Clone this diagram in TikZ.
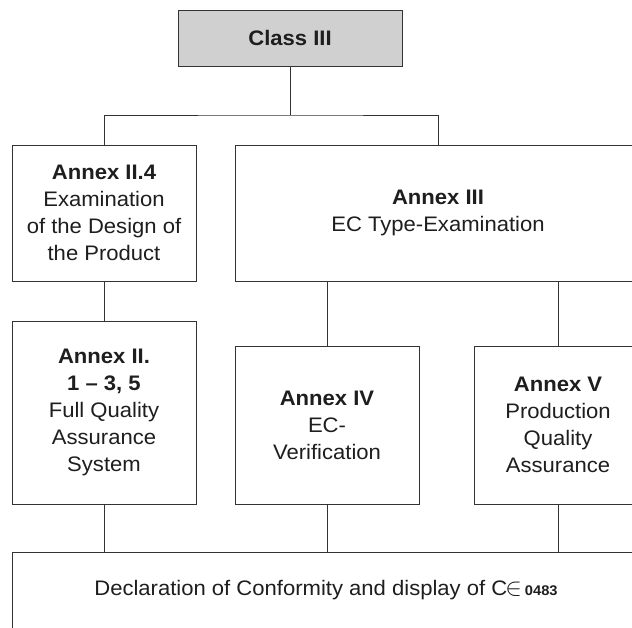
\documentclass[tikz,border=0pt]{standalone}
\usepackage{fontspec}
\setmainfont{Liberation Sans}[FakeStretch=1.05]
\definecolor{linec}{HTML}{333333}
\definecolor{textc}{HTML}{1E1E1E}
\definecolor{grayfill}{HTML}{D0D0D0}
\tikzset{
  box/.style={draw=linec, line width=1pt, rectangle, inner sep=0pt, align=center,
    text=textc, font=\fontsize{21}{27}\selectfont},
  conn/.style={draw=linec, line width=1pt},
}
\begin{document}
\begin{tikzpicture}[x=1pt,y=-1pt]
\useasboundingbox (0,0) rectangle (632,627);
\clip (0,0) rectangle (632,627);
\fill[white] (0,0) rectangle (632,627);
\node[box, fill=grayfill, minimum width=224pt, minimum height=56pt] (cls) at (290,38) {\textbf{Class III}};
\node[box, minimum width=184pt, minimum height=136pt] (a24) at (104,213)
  {\textbf{Annex II.4}\\Examination\\of the Design of\\the Product};
\node[box, minimum width=406pt, minimum height=136pt] (a3) at (438,213)
  {\textbf{Annex III}\\EC Type-Examination};
\node[box, minimum width=184pt, minimum height=183pt] (a2) at (104,412.5)
  {\textbf{Annex II.}\\\textbf{1 – 3, 5}\\Full Quality\\Assurance\\System};
\node[box, minimum width=184pt, minimum height=158pt] (a4) at (327,425)
  {\textbf{Annex IV}\\EC-\\Verification};
\node[box, minimum width=168pt, minimum height=158pt] (a5) at (558,425)
  {\textbf{Annex V}\\Production\\Quality\\Assurance};
\node[box, minimum width=628pt, minimum height=76pt] (dec) at (326,590)
  {Declaration of Conformity and display of C\kern-2pt{\fontsize{27}{27}\selectfont$\in$}\kern3pt{\fontsize{14}{16}\selectfont\textbf{0483}}};
\coordinate (bus) at (290,115);
\draw[conn] (cls.south) -- (bus);
\draw[conn] (a24.north) |- (bus) -| (a3.north);
\draw[conn] (a24.south) -- (a2.north);
\draw[conn] (a4.north) -- (a3.south -| a4.north);
\draw[conn] (a5.north) -- (a3.south -| a5.north);
\draw[conn] (a2.south) -- (dec.north -| a2.south);
\draw[conn] (a4.south) -- (dec.north -| a4.south);
\draw[conn] (a5.south) -- (dec.north -| a5.south);
\end{tikzpicture}
\end{document}
